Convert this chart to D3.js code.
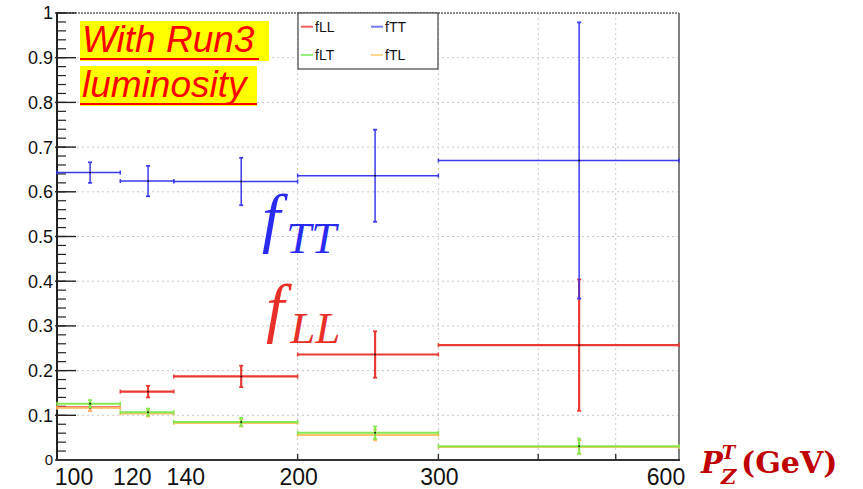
<!DOCTYPE html>
<html>
<head>
<meta charset="utf-8">
<script src="https://cdn.jsdelivr.net/npm/d3@7"></script>
<style>
  body { margin: 0; background: #fff; }
</style>
</head>
<body>
<div id="chart"></div>
<script>
// bins in pT (GeV)
var binEdges = [[100, 120], [120, 140], [140, 200], [200, 300], [300, 600]];
var binCenters = [110, 130, 170, 250, 450];

// fractions and errors per bin
var fLL = [0.118, 0.153, 0.187, 0.236, 0.257];
var fLLerr = [0.008, 0.013, 0.024, 0.052, 0.147];
var fTT = [0.643, 0.624, 0.623, 0.636, 0.670];
var fTTerr = [0.023, 0.034, 0.053, 0.103, 0.309];
var fLT = [0.126, 0.107, 0.085, 0.061, 0.031];
var fLTerr = [0.008, 0.008, 0.009, 0.014, 0.017];
var fTL = [0.117, 0.104, 0.083, 0.056, 0.029];
var fTLerr = [0.007, 0.007, 0.008, 0.012, 0.015];

var xTickLabels = [100, 120, 140, 200, 300, 600];
var xGridValues = [200, 300, 400, 500];
var yTickValues = [0, 0.1, 0.2, 0.3, 0.4, 0.5, 0.6, 0.7, 0.8, 0.9, 1];

var width = 863, height = 489;

var svg = d3.select("#chart")
  .append("svg")
  .attr("width", width)
  .attr("height", height)
  .style("font-family", "'Liberation Sans', Arial, sans-serif");

svg.append("rect").attr("width", width).attr("height", height).attr("fill", "#fff");

// log x axis, linear y axis
var x = d3.scaleLog().domain([100, 600]).range([57, 679]);
var y = d3.scaleLinear().domain([0, 1]).range([460, 13]);

// grid
var grid = svg.append("g");
grid.selectAll(".gy")
  .data(yTickValues.filter(function(d) { return d > 0 && d < 1; }))
  .enter().append("line")
  .attr("x1", x(100)).attr("x2", x(600))
  .attr("y1", function(d) { return y(d); })
  .attr("y2", function(d) { return y(d); })
  .attr("stroke", "#c8c8c8")
  .attr("stroke-dasharray", "2,3");
grid.selectAll(".gx")
  .data(xGridValues)
  .enter().append("line")
  .attr("x1", function(d) { return x(d); })
  .attr("x2", function(d) { return x(d); })
  .attr("y1", y(0)).attr("y2", y(1))
  .attr("stroke", "#c8c8c8")
  .attr("stroke-dasharray", "2,3");

// frame: top dotted gray, right gray
svg.append("line")
  .attr("x1", x(100)).attr("x2", x(600)).attr("y1", y(1)).attr("y2", y(1))
  .attr("stroke", "#8c8c8c").attr("stroke-width", 2).attr("stroke-dasharray", "2,1");
svg.append("line")
  .attr("x1", x(600)).attr("x2", x(600)).attr("y1", y(1)).attr("y2", y(0))
  .attr("stroke", "#808080").attr("stroke-width", 2);

// y axis: inward ticks
var yAxis = svg.append("g");
var yMinor = d3.range(0, 1.0001, 0.02);
yAxis.selectAll(".minor")
  .data(yMinor)
  .enter().append("line")
  .attr("x1", x(100)).attr("x2", x(100) + 9)
  .attr("y1", function(d) { return y(d); })
  .attr("y2", function(d) { return y(d); })
  .attr("stroke", "#222").attr("stroke-width", 1.2);
yAxis.selectAll(".major")
  .data(yTickValues)
  .enter().append("line")
  .attr("x1", x(100) - 2).attr("x2", x(100) + 19)
  .attr("y1", function(d) { return y(d); })
  .attr("y2", function(d) { return y(d); })
  .attr("stroke", "#222").attr("stroke-width", 1.4);
yAxis.append("line")
  .attr("x1", x(100)).attr("x2", x(100)).attr("y1", y(1) - 1).attr("y2", y(0))
  .attr("stroke", "#222").attr("stroke-width", 2);
yAxis.selectAll("text")
  .data(yTickValues)
  .enter().append("text")
  .attr("x", 53)
  .attr("y", function(d) { return y(d); })
  .attr("dy", "0.36em")
  .attr("text-anchor", "end")
  .style("font-size", function(d) { return d === 0 ? "15px" : "18px"; })
  .style("fill", "#111")
  .text(function(d) { return d3.format("~g")(d); });

// x axis
var xAxis = svg.append("g");
xAxis.append("line")
  .attr("x1", x(100) - 1).attr("x2", x(600) + 1).attr("y1", y(0)).attr("y2", y(0))
  .attr("stroke", "#333").attr("stroke-width", 2);
xAxis.selectAll(".xt")
  .data(xGridValues)
  .enter().append("line")
  .attr("x1", function(d) { return x(d); })
  .attr("x2", function(d) { return x(d); })
  .attr("y1", y(0)).attr("y2", y(0) - 6)
  .attr("stroke", "#333").attr("stroke-width", 1.4);
var xLabelShift = {100: 17, 120: 12, 140: 12, 200: 1, 300: 1, 600: -13};
xAxis.selectAll("text")
  .data(xTickLabels)
  .enter().append("text")
  .attr("x", function(d) { return x(d) + xLabelShift[d]; })
  .attr("y", 485)
  .attr("text-anchor", "middle")
  .style("font-family", "'Liberation Sans Narrow', 'Liberation Sans', sans-serif")
  .style("font-size", "23px")
  .style("fill", "#111")
  .text(function(d) { return d; });

// series
var series = [
  { name: "fLL", values: fLL, errs: fLLerr, color: "#e8302a", lw: 2.2, leg: "#f06060" },
  { name: "fTT", values: fTT, errs: fTTerr, color: "#3232ee", lw: 1.5, leg: "#7a7aff" },
  { name: "fTL", values: fTL, errs: fTLerr, color: "#ffbf66", lw: 2, leg: "#ffd890" },
  { name: "fLT", values: fLT, errs: fLTerr, color: "#7fe84a", lw: 2, leg: "#96f07e" }
];

series.forEach(function(s) {
  var g = svg.append("g").attr("opacity", 0.95);
  s.values.forEach(function(v, i) {
    var x0 = x(binEdges[i][0]), x1 = x(binEdges[i][1]), xc = x(binCenters[i]);
    var yv = y(v), yt = y(v + s.errs[i]), yb = y(v - s.errs[i]);
    // horizontal bin line with end caps
    g.append("line").attr("x1", x0).attr("x2", x1).attr("y1", yv).attr("y2", yv)
      .attr("stroke", s.color).attr("stroke-width", s.lw);
    [x0, x1].forEach(function(xe) {
      g.append("line").attr("x1", xe).attr("x2", xe).attr("y1", yv - 2).attr("y2", yv + 2)
        .attr("stroke", s.color).attr("stroke-width", 1.5);
    });
    // vertical error bar with caps
    g.append("line").attr("x1", xc).attr("x2", xc).attr("y1", yt).attr("y2", yb)
      .attr("stroke", s.color).attr("stroke-width", s.lw);
    [yt, yb].forEach(function(ye) {
      g.append("line").attr("x1", xc - 2).attr("x2", xc + 2).attr("y1", ye).attr("y2", ye)
        .attr("stroke", s.color).attr("stroke-width", 1.8);
    });
    g.append("circle").attr("cx", xc).attr("cy", yv).attr("r", 0.9).attr("fill", "#000");
  });
});

// legend
var legendOrder = ["fLL", "fTT", "fLT", "fTL"];
var legend = svg.append("g").attr("transform", "translate(298,13)");
legend.append("rect")
  .attr("width", 140).attr("height", 56)
  .attr("fill", "#fff").attr("stroke", "#444").attr("stroke-width", 1.2);
legendOrder.forEach(function(name, i) {
  var s = series.filter(function(d) { return d.name === name; })[0];
  var lx = (i % 2) * 70 + 3, ly = i < 2 ? 13.7 : 42;
  legend.append("line").attr("x1", lx).attr("x2", lx + 12).attr("y1", ly).attr("y2", ly)
    .attr("stroke", s.leg).attr("stroke-width", 2);
  legend.append("text").attr("x", lx + 14).attr("y", ly).attr("dy", "0.36em")
    .style("font-size", "14px").style("fill", "#111").text(name);
});

// "With Run3 luminosity" label
var note = svg.append("g");
var noteLines = ["With Run3", "luminosity"];
var noteBoxes = [[80, 21, 189, 40], [80, 66, 177, 40]];
noteLines.forEach(function(t, i) {
  var b = noteBoxes[i];
  note.append("rect").attr("x", b[0]).attr("y", b[1]).attr("width", b[2]).attr("height", b[3])
    .attr("fill", "#ffff00");
  note.append("text")
    .attr("x", b[0] + 2).attr("y", b[1] + 31)
    .style("font-size", "37px").style("font-style", "italic")
    .style("fill", "#ff0000")
    .text(t);
  note.append("line")
    .attr("x1", b[0]).attr("x2", b[0] + b[2] - (i === 0 ? 10 : 0))
    .attr("y1", b[1] + 38).attr("y2", b[1] + 38)
    .attr("stroke", "#ff0000").attr("stroke-width", 2);
});

// f_TT and f_LL math labels
function mathLabel(xp, yp, sub, color) {
  var t = svg.append("text")
    .attr("x", xp).attr("y", yp)
    .style("font-family", "'Liberation Serif', 'DejaVu Serif', serif")
    .style("font-style", "italic")
    .style("fill", color);
  t.append("tspan").style("font-size", "66px").text("f");
  t.append("tspan").attr("dx", 6).attr("dy", 13).style("font-size", "45px").text(sub);
}
mathLabel(262, 240, "TT", "#2a2af0");
mathLabel(266, 330, "LL", "#e8302a");

// x axis title
var xt = svg.append("text")
  .attr("x", 701).attr("y", 473)
  .style("font-family", "'DejaVu Serif', 'Liberation Serif', serif")
  .style("font-weight", "bold")
  .style("fill", "#c00000");
xt.append("tspan").style("font-size", "29px").style("font-style", "italic").text("P");
xt.append("tspan").attr("dx", -1).attr("dy", -14).style("font-size", "18px").style("font-style", "italic").text("T");
xt.append("tspan").attr("x", 721).attr("dy", 25).style("font-size", "21px").style("font-style", "italic").text("Z");
xt.append("tspan").attr("x", 741).attr("dy", -11).style("font-size", "30px").text("(GeV)");
</script>
</body>
</html>
